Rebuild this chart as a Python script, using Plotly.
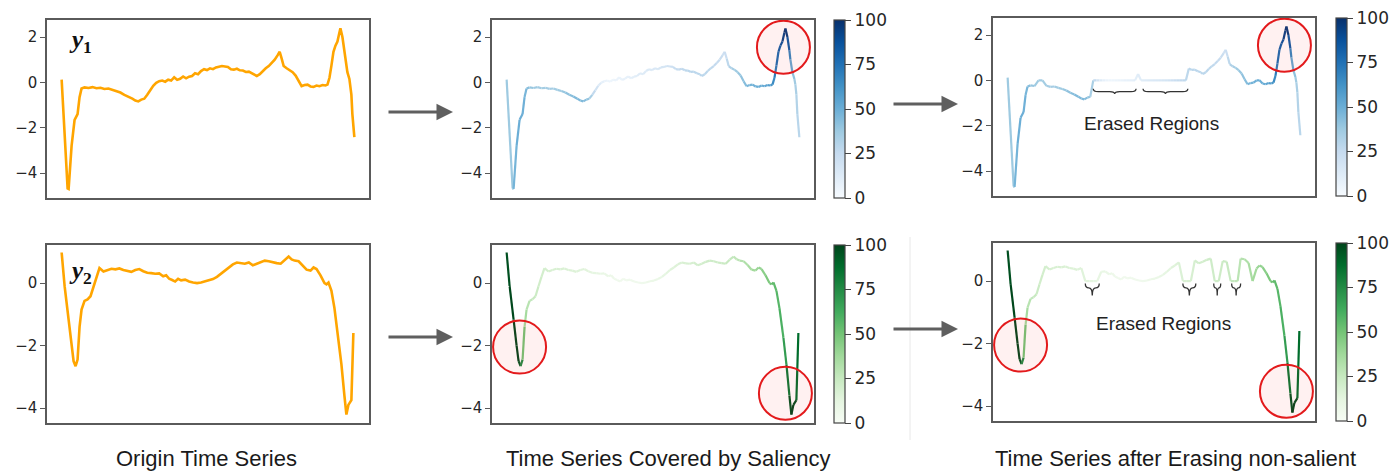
import plotly.graph_objects as go
from plotly.colors import sample_colorscale, sequential

W, H = 1395, 471

# ---------------- data ----------------
t1 = [0, 6, 7, 10, 13, 16, 18, 20, 23, 27,
      31, 35, 39, 43, 47, 51, 55, 59, 63, 67,
      71, 74, 77, 80, 83, 86, 89, 92, 95, 98,
      101, 104, 107, 110, 113, 116, 119, 122, 125, 128,
      131, 134, 137, 140, 143, 146, 149, 152, 155, 158,
      161, 164, 167, 170, 173, 176, 179, 182, 185, 188,
      191, 194, 196, 199, 202, 205, 208, 211, 214, 217,
      219, 221, 223, 226, 229, 232, 235, 238, 241, 244,
      247, 250, 253, 256, 259, 262, 265, 267, 269, 271,
      273, 275, 277, 279, 280, 282, 284, 285, 287, 289,
      290, 291, 292, 294]
y1 = [0.12, -4.68, -4.70, -2.80, -1.65, -1.40, -0.65, -0.27, -0.22, -0.25,
      -0.21, -0.26, -0.24, -0.29, -0.27, -0.33, -0.38, -0.45, -0.55, -0.62,
      -0.72, -0.80, -0.84, -0.76, -0.72, -0.55, -0.35, -0.15, -0.02, 0.05,
      0.08, 0.03, 0.12, 0.08, 0.22, 0.11, 0.16, 0.26, 0.18, 0.25,
      0.28, 0.40, 0.36, 0.50, 0.58, 0.54, 0.62, 0.58, 0.66, 0.68,
      0.72, 0.70, 0.68, 0.58, 0.56, 0.60, 0.53, 0.52, 0.46, 0.47,
      0.40, 0.36, 0.28, 0.36, 0.50, 0.62, 0.72, 0.85, 1.00, 1.20,
      1.35, 1.05, 0.72, 0.62, 0.55, 0.45, 0.30, 0.05, -0.17, -0.12,
      -0.10, -0.18, -0.20, -0.14, -0.17, -0.12, -0.14, -0.10, 0.20, 0.75,
      1.35, 1.62, 1.80, 2.20, 2.38, 2.00, 1.40, 1.00, 0.45, 0.15,
      -0.10, -0.54, -1.40, -2.42]
sal1 = [35, 40, 45, 50, 50, 50, 48, 45, 40, 38,
        36, 36, 35, 35, 35, 36, 38, 40, 42, 44,
        45, 45, 45, 42, 38, 30, 22, 15, 10, 7,
        5, 5, 5, 6, 6, 7, 8, 8, 9, 10,
        11, 12, 12, 13, 14, 14, 15, 15, 16, 17,
        18, 20, 22, 24, 25, 26, 27, 28, 28, 28,
        28, 28, 28, 28, 28, 27, 26, 25, 24, 22,
        20, 25, 30, 34, 36, 38, 40, 42, 45, 47,
        48, 50, 50, 50, 52, 55, 58, 62, 68, 74,
        80, 85, 90, 96, 100, 92, 75, 60, 45, 38,
        35, 32, 30, 28]

t2 = [0, 3, 7, 10, 12, 14, 16, 18, 20, 23,
      26, 29, 32, 35, 38, 42, 46, 50, 54, 58,
      62, 66, 70, 74, 78, 82, 86, 90, 94, 98,
      102, 105, 108, 111, 114, 117, 120, 124, 128, 132,
      136, 140, 144, 148, 152, 156, 160, 164, 168, 172,
      176, 180, 184, 188, 192, 196, 200, 204, 208, 212,
      216, 220, 224, 228, 231, 234, 238, 242, 246, 250,
      253, 256, 260, 264, 266, 268, 271, 274, 278, 281,
      284, 286, 288, 291, 293]
y2 = [0.98, -0.10, -1.17, -2.00, -2.50, -2.66, -2.45, -1.40, -0.85, -0.57,
      -0.52, -0.42, -0.10, 0.20, 0.48, 0.37, 0.42, 0.46, 0.44, 0.47,
      0.42, 0.40, 0.36, 0.42, 0.45, 0.38, 0.33, 0.32, 0.30, 0.31,
      0.22, 0.25, 0.14, 0.10, 0.05, 0.14, 0.09, 0.11, 0.05, 0.02,
      0.00, 0.02, 0.06, 0.08, 0.13, 0.20, 0.30, 0.42, 0.50, 0.60,
      0.66, 0.63, 0.62, 0.66, 0.57, 0.62, 0.68, 0.72, 0.70, 0.66,
      0.64, 0.62, 0.75, 0.85, 0.76, 0.72, 0.70, 0.58, 0.43, 0.40,
      0.50, 0.45, 0.25, 0.00, -0.04, 0.02, -0.25, -0.80, -1.75, -2.60,
      -3.60, -4.21, -3.90, -3.75, -1.60]
sal2 = [95, 98, 100, 100, 100, 90, 60, 40, 32, 28,
        25, 24, 22, 20, 20, 18, 18, 18, 17, 17,
        16, 16, 15, 15, 14, 13, 12, 11, 10, 9,
        8, 7, 6, 5, 5, 5, 5, 5, 5, 5,
        5, 6, 7, 8, 9, 10, 12, 14, 15, 16,
        17, 18, 18, 19, 20, 20, 21, 22, 22, 22,
        23, 24, 25, 26, 28, 30, 32, 34, 36, 38,
        40, 42, 45, 50, 52, 54, 56, 58, 62, 75,
        92, 100, 100, 95, 80]

# non-salient regions that get erased (set to zero) in the third column
erased1 = [(30, 36), (84, 128), (134, 180), (249, 254)]
erased2 = [(77, 90), (175, 187), (206, 212), (224, 232), (244, 249)]
braced1 = [(84, 128), (134, 180)]
braced2 = [(77, 90), (175, 187), (206, 212), (224, 232)]

# highlighted salient spots (data coordinates)
circles1 = [(278, 1.55)]
circles2 = [(13, -2.05), (280, -3.53)]

cbar_ticks = [0, 25, 50, 75, 100]
yticks1 = [-4, -2, 0, 2]
yticks2 = [-4, -2, 0]
col_titles = ["Origin Time Series", "Time Series Covered by Saliency",
              "Time Series after Erasing non-salient"]
row_labels = ["<b><i>y</i><sub>1</sub></b>", "<b><i>y</i><sub>2</sub></b>"]

assert len(t1) == len(y1) == len(sal1)
assert len(t2) == len(y2) == len(sal2)

# ---------------- layout geometry ----------------
XR = [-14.7, 308.7]
YR = [[-5.1, 2.75], [-4.48, 1.22]]
xdom = [[47 / W, 369 / W], [492 / W, 814 / W], [993 / W, 1315 / W]]
ydom = [
    [[1 - 198 / H, 1 - 20 / H], [1 - 198 / H, 1 - 20 / H], [1 - 196 / H, 1 - 18 / H]],
    [[1 - 423 / H, 1 - 245 / H], [1 - 423 / H, 1 - 245 / H], [1 - 421 / H, 1 - 243 / H]],
]
BLUES = sequential.Blues
GREENS = sequential.Greens


def erase(t, v, regions):
    return [0.0 if any(a <= ti <= b for a, b in regions) else vi for ti, vi in zip(t, v)]


fig = go.Figure()
layout = dict(
    width=W, height=H, margin=dict(l=0, r=0, t=0, b=0),
    paper_bgcolor="white", plot_bgcolor="rgba(0,0,0,0)", showlegend=False,
)

AX_COLOR = "#5a5a5a"
for r in range(2):
    for c in range(3):
        n = r * 3 + c + 1
        sfx = "" if n == 1 else str(n)
        layout["xaxis" + sfx] = dict(
            domain=xdom[c], range=XR, anchor="y" + sfx, showticklabels=False,
            ticks="", showgrid=False, zeroline=False, showline=True, mirror=True,
            linecolor=AX_COLOR, linewidth=1.5,
        )
        layout["yaxis" + sfx] = dict(
            domain=ydom[r][c], range=YR[r], anchor="x" + sfx,
            tickvals=yticks1 if r == 0 else yticks2,
            ticks="outside", ticklen=5, tickwidth=1.2, tickcolor=AX_COLOR,
            tickfont=dict(family="DejaVu Sans", size=15, color="#262626"),
            showgrid=False, zeroline=False, showline=True, mirror=True,
            linecolor=AX_COLOR, linewidth=1.5,
        )

series = [(t1, y1, sal1, BLUES, erased1), (t2, y2, sal2, GREENS, erased2)]

for r, (t, v, s, scale, er) in enumerate(series):
    # column 1 : original series
    n = r * 3 + 1
    sfx = "" if n == 1 else str(n)
    fig.add_trace(go.Scatter(x=t, y=v, mode="lines", line=dict(color="#FFA500", width=2.6),
                             xaxis="x" + sfx, yaxis="y" + sfx, hoverinfo="skip"))
    # columns 2 and 3 : saliency-coloured series
    for c, vv in ((1, v), (2, erase(t, v, er))):
        n = r * 3 + c + 1
        sfx = str(n)
        for i in range(len(t) - 1):
            col = sample_colorscale(scale, (s[i] + s[i + 1]) / 200.0)[0]
            fig.add_trace(go.Scatter(x=[t[i], t[i + 1]], y=[vv[i], vv[i + 1]], mode="lines",
                                     line=dict(color=col, width=2.2),
                                     xaxis="x" + sfx, yaxis="y" + sfx, hoverinfo="skip"))
        # colourbar carrier
        ymid = (ydom[r][c][0] + ydom[r][c][1]) / 2
        cbx = 834 / W if c == 1 else 1336 / W
        fig.add_trace(go.Scatter(
            x=t, y=vv, mode="markers", xaxis="x" + sfx, yaxis="y" + sfx, hoverinfo="skip",
            marker=dict(size=1, opacity=0, color=s, colorscale=scale, cmin=0, cmax=100,
                        showscale=True,
                        colorbar=dict(x=cbx, xanchor="left", y=ymid, yanchor="middle",
                                      len=178, lenmode="pixels", thickness=11,
                                      thicknessmode="pixels", xpad=0, ypad=0,
                                      outlinewidth=1.2, outlinecolor="#444",
                                      tickvals=cbar_ticks, ticks="outside", ticklen=6,
                                      tickcolor="#444",
                                      tickfont=dict(family="DejaVu Sans", size=17,
                                                    color="#262626"))),
        ))

shapes = []
annotations = []

# red circles around salient regions
for r, circ in enumerate((circles1, circles2)):
    for c in (1, 2):
        sfx = str(r * 3 + c + 1)
        for (cx, cy) in circ:
            shapes.append(dict(type="circle", xref="x" + sfx, yref="y" + sfx,
                               xsizemode="pixel", ysizemode="pixel", xanchor=cx, yanchor=cy,
                               x0=-26.5, x1=26.5, y0=-26.5, y1=26.5,
                               line=dict(color="#e31a1c", width=2),
                               fillcolor="rgba(255,60,60,0.07)", layer="above"))


def brace_path(x0, x1, ytop, ymid, ybot):
    xm = (x0 + x1) / 2
    d = min(5.0, (x1 - x0) / 4)
    return (f"M {x0},{ytop} Q {x0},{ymid} {x0 + d},{ymid} L {xm - d},{ymid} "
            f"Q {xm},{ymid} {xm},{ybot} Q {xm},{ymid} {xm + d},{ymid} "
            f"L {x1 - d},{ymid} Q {x1},{ymid} {x1},{ytop}")


for (a, b) in braced1:
    shapes.append(dict(type="path", xref="x3", yref="y3",
                       path=brace_path(a + 2, b + 1, -0.37, -0.50, -0.60),
                       line=dict(color="#333333", width=1.3)))
for (a, b) in braced2:
    shapes.append(dict(type="path", xref="x6", yref="y6",
                       path=brace_path(a + 1, b + 2, -0.08, -0.22, -0.46),
                       line=dict(color="#333333", width=1.3)))

annotations.append(dict(text="Erased Regions", x=144, y=-1.9, xref="x3", yref="y3",
                        showarrow=False, font=dict(family="Liberation Sans", size=19, color="#222")))
annotations.append(dict(text="Erased Regions", x=157, y=-1.35, xref="x6", yref="y6",
                        showarrow=False, font=dict(family="Liberation Sans", size=19, color="#222")))

# faint separator
shapes.append(dict(type="line", xref="paper", yref="paper", x0=910 / W, x1=910 / W,
                   y0=1 - 440 / H, y1=1 - 237 / H, line=dict(color="#e8e8e8", width=1)))

# arrows between columns
for (xh, yh, length) in ((453, 112, 66), (958, 104, 66), (453, 337, 66), (958, 329, 66)):
    annotations.append(dict(x=xh / W, y=1 - yh / H, xref="paper", yref="paper",
                            ax=-length, ay=0, text="", showarrow=True, arrowhead=2,
                            arrowsize=1.1, arrowwidth=3, arrowcolor="#5f5f5f", standoff=0))

# column titles
for cx, txt in zip((206, 667.5, 1175), col_titles):
    annotations.append(dict(text=txt, x=cx / W, y=1 - 458 / H, xref="paper", yref="paper",
                            showarrow=False, xanchor="center", yanchor="middle",
                            font=dict(family="Liberation Sans", size=22, color="#1a1a1a")))

# row labels
for py, txt in zip((42, 272), row_labels):
    annotations.append(dict(text=txt, x=67 / W, y=1 - py / H, xref="paper", yref="paper",
                            showarrow=False, xanchor="left", yanchor="middle",
                            font=dict(family="Liberation Serif", size=25, color="#111")))

layout["shapes"] = shapes
layout["annotations"] = annotations
fig.update_layout(**layout)
fig.write_html("out.html", config={"displayModeBar": False},
               post_script="document.body.style.margin='0';document.body.style.overflow='hidden';")
